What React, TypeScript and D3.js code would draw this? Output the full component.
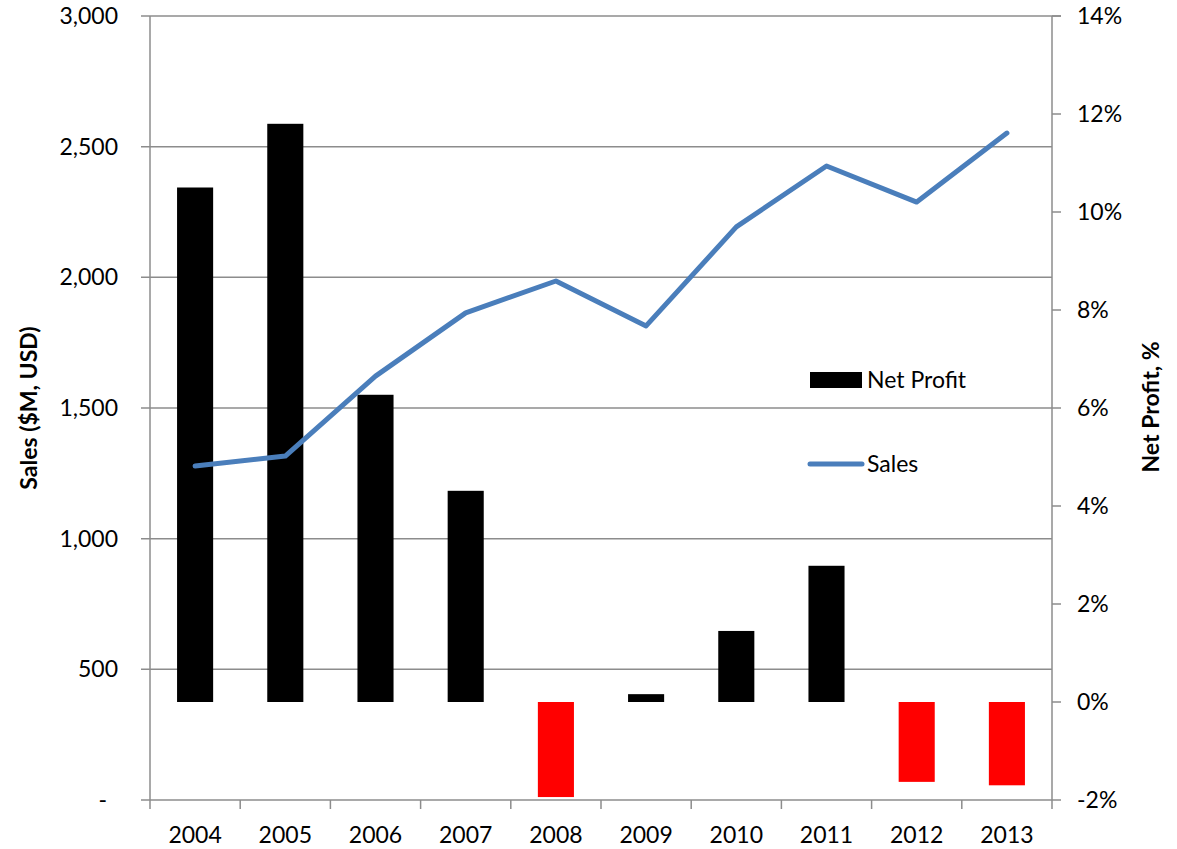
import * as d3 from 'd3';

const YEARS = ['2004', '2005', '2006', '2007', '2008', '2009', '2010', '2011', '2012', '2013'];
const SALES = [1278, 1316, 1622, 1864, 1986, 1814, 2193, 2426, 2288, 2552];
const NET_PROFIT = [10.5, 11.8, 6.27, 4.31, -1.94, 0.16, 1.45, 2.78, -1.63, -1.7];
const SALES_TICKS = [0, 500, 1000, 1500, 2000, 2500, 3000];
const PROFIT_TICKS = [-2, 0, 2, 4, 6, 8, 10, 12, 14];

const WIDTH = 1177;
const HEIGHT = 849;
const PLOT = { left: 150, right: 1052, top: 16, bottom: 800 };
const FONT = 'Lato, "Open Sans", sans-serif';
const GRID = '#8c8c8c';
const BLUE = '#4a7ebb';

export default function App() {
  const x = d3.scaleBand().domain(YEARS).range([PLOT.left, PLOT.right]);
  const ySales = d3.scaleLinear().domain([0, 3000]).range([PLOT.bottom, PLOT.top]);
  const yProfit = d3.scaleLinear().domain([-2, 14]).range([PLOT.bottom, PLOT.top]);
  const barW = x.bandwidth() * 0.4;
  const fmt = d3.format(',');

  const line = d3
    .line<number>()
    .x((_, i) => (x(YEARS[i]) ?? 0) + x.bandwidth() / 2)
    .y((d) => ySales(d));

  const boundaries = [...YEARS.map((y) => x(y) ?? 0), PLOT.right];

  return (
    <svg width={WIDTH} height={HEIGHT} style={{ position: 'absolute', left: 0, top: 0 }}>
      <rect width={WIDTH} height={HEIGHT} fill='#fff' />
      {/* gridlines + left ticks */}
      {SALES_TICKS.map((t) => (
        <g key={t}>
          {t > 0 && (
            <line x1={PLOT.left - 9} x2={PLOT.right} y1={ySales(t)} y2={ySales(t)} stroke={GRID} strokeWidth={1.5} />
          )}
          <text
            x={t === 0 ? 107 : 118}
            y={ySales(t)}
            dy='0.35em'
            textAnchor='end'
            fontFamily={FONT}
            fontSize={23}
            fill='#000'
          >
            {t === 0 ? '-' : fmt(t)}
          </text>
        </g>
      ))}
      <line x1={PLOT.left - 9} x2={PLOT.left} y1={PLOT.bottom} y2={PLOT.bottom} stroke={GRID} strokeWidth={1.5} />

      {/* bars */}
      {NET_PROFIT.map((v, i) => (
        <rect
          key={YEARS[i]}
          x={(x(YEARS[i]) ?? 0) + (x.bandwidth() - barW) / 2}
          y={yProfit(Math.max(0, v))}
          width={barW}
          height={Math.abs(yProfit(v) - yProfit(0))}
          fill={v < 0 ? '#ff0000' : '#000'}
        />
      ))}

      {/* sales line */}
      <path d={line(SALES) ?? ''} fill='none' stroke={BLUE} strokeWidth={5} strokeLinejoin='round' strokeLinecap='round' />

      {/* axes */}
      <line x1={PLOT.left} x2={PLOT.left} y1={PLOT.top} y2={PLOT.bottom} stroke={GRID} strokeWidth={1.5} />
      <line x1={PLOT.right} x2={PLOT.right} y1={PLOT.top} y2={PLOT.bottom} stroke={GRID} strokeWidth={1.5} />
      <line x1={PLOT.left} x2={PLOT.right} y1={PLOT.bottom} y2={PLOT.bottom} stroke={GRID} strokeWidth={1.5} />
      <line x1={PLOT.right} x2={PLOT.right + 9} y1={PLOT.top} y2={PLOT.top} stroke={GRID} strokeWidth={1.5} />
      {PROFIT_TICKS.map((t) => (
        <g key={t}>
          <line x1={PLOT.right} x2={PLOT.right + 9} y1={yProfit(t)} y2={yProfit(t)} stroke={GRID} strokeWidth={1.5} />
          <text x={1077} y={yProfit(t)} dy='0.35em' fontFamily={FONT} fontSize={23} fill='#000'>
            {`${t}%`}
          </text>
        </g>
      ))}
      {boundaries.map((b, i) => (
        <line key={i} x1={b} x2={b} y1={PLOT.bottom} y2={PLOT.bottom + 9} stroke={GRID} strokeWidth={1.5} />
      ))}
      {YEARS.map((y) => (
        <text
          key={y}
          x={(x(y) ?? 0) + x.bandwidth() / 2}
          y={843}
          textAnchor='middle'
          fontFamily={FONT}
          fontSize={23}
          fill='#000'
        >
          {y}
        </text>
      ))}

      {/* axis titles */}
      <text
        transform='translate(37,408) rotate(-90)'
        textAnchor='middle'
        fontFamily={FONT}
        fontSize={23}
        fontWeight='bold'
      >
        Sales ($M, USD)
      </text>
      <text
        transform='translate(1159,407) rotate(-90)'
        textAnchor='middle'
        fontFamily={FONT}
        fontSize={23}
        fontWeight='bold'
      >
        Net Profit, %
      </text>

      {/* legend */}
      <rect x={810} y={372} width={52} height={16} fill='#000' />
      <text x={867} y={388} fontFamily={FONT} fontSize={23}>
        Net Profit
      </text>
      <line x1={810} x2={862} y1={464} y2={464} stroke={BLUE} strokeWidth={5} strokeLinecap='round' />
      <text x={867} y={472} fontFamily={FONT} fontSize={23}>
        Sales
      </text>
    </svg>
  );
}
